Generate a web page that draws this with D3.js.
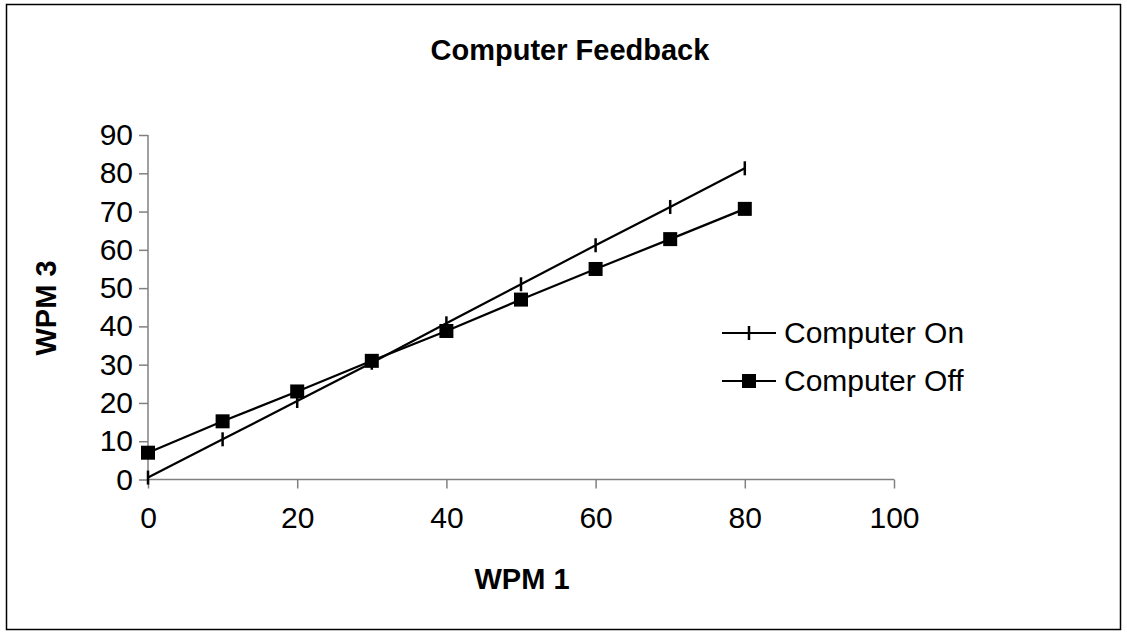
<!doctype html>
<html>
<head>
<meta charset="UTF-8">
<title>Computer Feedback</title>
<script src="https://d3js.org/d3.v7.min.js"></script>
<style>
  body { margin: 0; background: #fff; }
  svg text { font-family: "Liberation Sans", Arial, sans-serif; fill: #000; }
</style>
</head>
<body>
<svg width="1127" height="632"></svg>
<script>
// data
var wpm1 = [0, 10, 20, 30, 40, 50, 60, 70, 80];
var computerOn = [0.5, 10.5, 20.5, 30.5, 40.8, 51, 61.2, 71.2, 81.3];
var computerOff = [7, 15.2, 23, 31, 38.8, 47, 55, 62.8, 70.7];
var seriesNames = ["Computer On", "Computer Off"];
var xTicks = [0, 20, 40, 60, 80, 100];
var yTicks = [0, 10, 20, 30, 40, 50, 60, 70, 80, 90];

var svg = d3.select("svg");

// outer frame
svg.append("rect")
   .attr("x", 6.5).attr("y", 4.5)
   .attr("width", 1114).attr("height", 625)
   .attr("fill", "none").attr("stroke", "#000").attr("stroke-width", 1.5);

var x = d3.scaleLinear().domain([0, 100]).range([148, 894]);
var y = d3.scaleLinear().domain([0, 90]).range([479.5, 135]);

// axes
var xAxis = svg.append("g")
   .attr("transform", "translate(0," + y(0) + ")")
   .call(d3.axisBottom(x).tickValues(xTicks).tickSize(9).tickPadding(18));
var yAxis = svg.append("g")
   .attr("transform", "translate(" + x(0) + ",0)")
   .call(d3.axisLeft(y).tickValues(yTicks).tickSize(9).tickPadding(6));

[xAxis, yAxis].forEach(function(a){
   a.selectAll("path").attr("stroke", "#808080").attr("stroke-width", 1.5);
   a.selectAll(".tick line").attr("stroke", "#808080").attr("stroke-width", 1.5);
   a.selectAll("text").style("font-size", "30px").attr("fill", "#000");
});
yAxis.selectAll("path").attr("d", "M0," + y(90) + "V" + y(0));
xAxis.selectAll("path").attr("d", "M" + x(0) + ",0H" + x(100));

// titles
svg.append("text").attr("x", 570).attr("y", 60)
   .attr("text-anchor", "middle").style("font-size", "29px").style("font-weight", "bold")
   .text("Computer Feedback");
svg.append("text").attr("x", 522).attr("y", 589)
   .attr("text-anchor", "middle").style("font-size", "29px").style("font-weight", "bold")
   .text("WPM 1");
svg.append("text")
   .attr("transform", "translate(56,308) rotate(-90)")
   .attr("text-anchor", "middle").style("font-size", "29px").style("font-weight", "bold")
   .text("WPM 3");

var line = d3.line()
   .x(function(d){ return x(d[0]); })
   .y(function(d){ return y(d[1]); });

var onPts = wpm1.map(function(v, i){ return [v, computerOn[i]]; });
var offPts = wpm1.map(function(v, i){ return [v, computerOff[i]]; });

svg.append("path").datum(onPts).attr("d", line)
   .attr("fill", "none").attr("stroke", "#000").attr("stroke-width", 2.2);
svg.append("path").datum(offPts).attr("d", line)
   .attr("fill", "none").attr("stroke", "#000").attr("stroke-width", 2.2);

// markers: plus = vertical dash, off = square
svg.selectAll(".mOn").data(onPts).enter().append("line")
   .attr("x1", function(d){ return x(d[0]); })
   .attr("x2", function(d){ return x(d[0]); })
   .attr("y1", function(d){ return y(d[1]) - 7; })
   .attr("y2", function(d){ return y(d[1]) + 7; })
   .attr("stroke", "#000").attr("stroke-width", 2.5);
svg.selectAll(".mOff").data(offPts).enter().append("rect")
   .attr("x", function(d){ return x(d[0]) - 7; })
   .attr("y", function(d){ return y(d[1]) - 7; })
   .attr("width", 14).attr("height", 14)
   .attr("fill", "#000");

// legend
var lg = svg.append("g");
seriesNames.forEach(function(name, i){
   var ly = 333 + i * 48;
   lg.append("line").attr("x1", 722).attr("x2", 776).attr("y1", ly).attr("y2", ly)
     .attr("stroke", "#000").attr("stroke-width", 2.2);
   if (i === 0) {
      lg.append("line").attr("x1", 749).attr("x2", 749).attr("y1", ly - 7).attr("y2", ly + 7)
        .attr("stroke", "#000").attr("stroke-width", 2.5);
   } else {
      lg.append("rect").attr("x", 742).attr("y", ly - 7).attr("width", 14).attr("height", 14)
        .attr("fill", "#000");
   }
   lg.append("text").attr("x", 784).attr("y", ly + 10)
     .style("font-size", "30px").text(name);
});
</script>
</body>
</html>
